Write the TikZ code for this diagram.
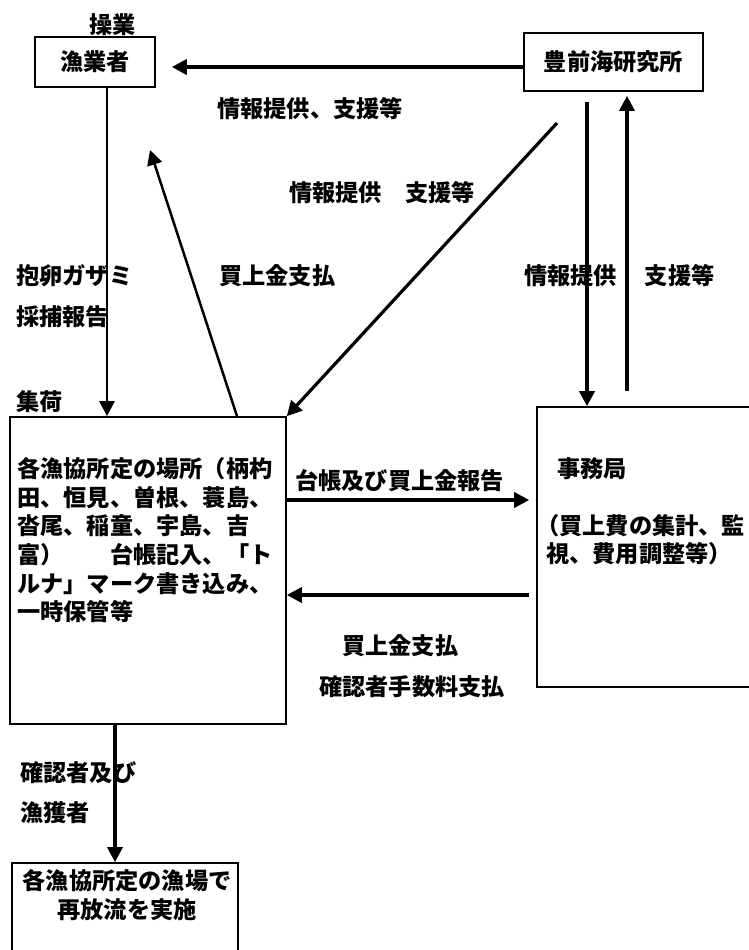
\documentclass[tikz,border=0pt]{standalone}
\usepackage{fontspec}
\newfontfamily\jp{Noto Sans CJK JP}
\newcommand\jpf{\jp\bfseries\fontsize{23.2}{28.7}\selectfont}
\usetikzlibrary{arrows.meta,calc}
\begin{document}
\begin{tikzpicture}[x=1pt,y=-1pt,
  box/.style={draw,line width=1.6pt,inner sep=0pt,font=\jpf},
  lbl/.style={inner sep=0pt,font=\jpf,anchor=base west},
  para/.style={inner sep=0pt,font=\jpf,anchor=north west,align=left},
  arr/.style={line width=3.2pt,-{Triangle[length=15pt,width=15pt]}}]
\useasboundingbox[fill=white] (0,0) rectangle (748,950);

% boxes
\node[box,minimum width=120pt,minimum height=50pt] (gyo) at (95,62) {漁業者};
\node[box,minimum width=179pt,minimum height=58pt] (ken) at (613.5,62) {豊前海研究所};
\node[box,minimum width=276pt,minimum height=307pt] (main) at (148,570.5) {};
\node[box,minimum width=215pt,minimum height=280pt] (jimu) at (644.5,547) {};
\node[box,minimum width=226pt,minimum height=97pt] (rel) at (125,911.5) {};

% box texts
\node[para] (maintext) at (17,457) {各漁協所定の場所（柄杓\\田、恒見、曽根、蓑島、\\沓尾、稲童、宇島、吉\\富）　　台帳記入、「ト\\ルナ」マーク書き込み、\\一時保管等};
\node[lbl] (jimutitle) at (557,477) {事務局};
\node[para] (jimutext) at (536,514) {（買上費の集計、監\\\hspace{10pt}視、費用調整等）};
\node[para,align=center,anchor=north] (reltext) at (127,869) {各漁協所定の漁場で\\再放流を実施};

% labels
\node[lbl] (sogyo) at (89,34) {操業};
\node[lbl] (l1) at (217,117) {情報提供、支援等};
\node[lbl] (l2) at (289,201) {情報提供　支援等};
\node[lbl] (l3) at (16,284) {抱卵ガザミ};
\node[lbl] (l4) at (16,325) {採捕報告};
\node[lbl] (l5) at (219,284) {買上金支払};
\node[lbl] (l6) at (524,284) {情報提供\hspace{28pt}支援等};
\node[lbl] (l7) at (16,410) {集荷};
\node[lbl] (l8) at (295,489) {台帳及び買上金報告};
\node[lbl] (l9) at (342,654) {買上金支払};
\node[lbl] (l10) at (319,695) {確認者手数料支払};
\node[lbl] (l11) at (20,781) {確認者及び};
\node[lbl] (l12) at (20,821) {漁獲者};

% connectors
\coordinate (kaitip) at (150,150);
\coordinate (diagstart) at (557,123);
\draw[arr,line width=3.5pt,shorten >=16pt] ([yshift=-5pt]ken.west) -- ([yshift=-5pt]gyo.east);
\draw[arr,line width=2.5pt] (107,0 |- gyo.south) -- (107,0 |- main.north);
\draw[arr,line width=2.5pt] (237,0 |- main.north) -- (kaitip);
\draw[arr] (diagstart) -- (main.north east);
\draw[arr,line width=4pt,shorten <=10pt] (587,0 |- ken.south) -- (587,0 |- jimu.north);
\draw[arr,shorten <=15pt,shorten >=4pt] (627,0 |- jimu.north) -- (627,0 |- ken.south);
\draw[arr,line width=3.6pt,shorten >=7pt] (main.east |- 0,500) -- (jimu.west |- 0,500);
\draw[arr,line width=3.6pt,shorten <=7pt] (jimu.west |- 0,595) -- (main.east |- 0,595);
\draw[arr] (115,0 |- main.south) -- (115,0 |- rel.north);
\end{tikzpicture}
\end{document}
